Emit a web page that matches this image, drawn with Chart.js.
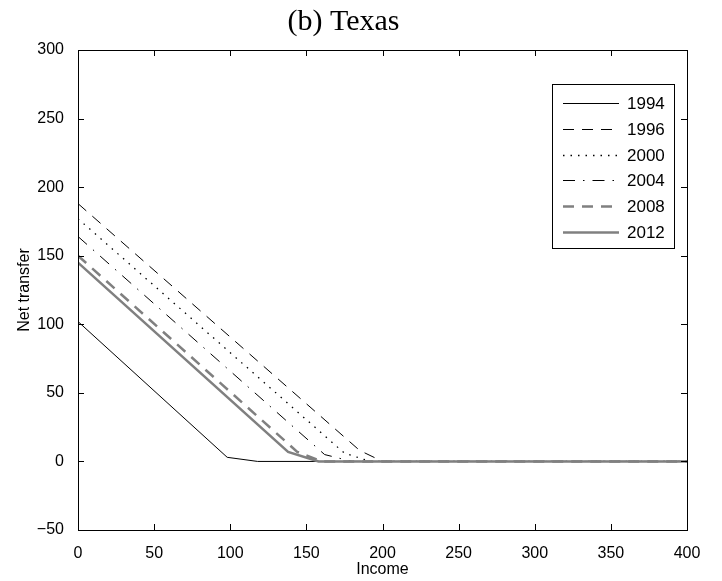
<!DOCTYPE html>
<html>
<head>
<meta charset="utf-8">
<script src="https://cdn.jsdelivr.net/npm/chart.js@4.4.1/dist/chart.umd.min.js"></script>
<style>
  body { margin: 0; background: #fff; }
  canvas { display: block; }
</style>
</head>
<body>
<canvas id="texaschart" width="722" height="581"></canvas>
<script>
// series: income knots and net transfer at each
const years = ['1994', '1996', '2000', '2004', '2008', '2012'];
const income1994 = [0, 98, 118, 400];
const net1994 = [102, 3, 0, 0];
const income1996 = [0, 185, 200, 400];
const net1996 = [188, 8, 0, 0];
const income2000 = [0, 175, 192, 400];
const net2000 = [177, 6, 0, 0];
const income2004 = [0, 162, 180, 400];
const net2004 = [164, 5, 0, 0];
const income2008 = [0, 144, 160, 400];
const net2008 = [150, 7, 0, 0];
const income2012 = [0, 138, 158, 400];
const net2012 = [145, 7, 0, 0];

const xTicks = [0, 50, 100, 150, 200, 250, 300, 350, 400];
const yTicks = [-50, 0, 50, 100, 150, 200, 250, 300];

const incomes = [income1994, income1996, income2000, income2004, income2008, income2012];
const nets = [net1994, net1996, net2000, net2004, net2008, net2012];

const styles = [
    { color: '#000', width: 1, dash: [] },
    { color: '#000', width: 1, dash: [11, 8] },
    { color: '#000', width: 1.3, dash: [1.5, 6] },
    { color: '#000', width: 1, dash: [12, 8, 1.5, 8] },
    { color: '#808080', width: 2.5, dash: [11, 8] },
    { color: '#808080', width: 2.5, dash: [] },
];

let datasets = [];
for (let i = 0; i < years.length; i++) {
    datasets.push({
        label: years[i],
        data: incomes[i].map((x, j) => ({ x: x, y: nets[i][j] })),
        borderColor: styles[i].color,
        borderWidth: styles[i].width,
        borderDash: styles[i].dash,
        pointRadius: 0,
        tension: 0,
        fill: false,
        order: years.length - i,
    });
}

// MATLAB style box, inward ticks and the legend box
const frame = {
    id: 'frame',
    afterDatasetsDraw(chart) {
        const { ctx, chartArea: a, scales: { x, y } } = chart;
        ctx.save();
        ctx.setLineDash([]);
        ctx.strokeStyle = '#000';
        ctx.lineWidth = 1;
        ctx.beginPath();
        x.ticks.forEach(t => {
            const px = Math.round(x.getPixelForValue(t.value)) + 0.5;
            ctx.moveTo(px, a.bottom); ctx.lineTo(px, a.bottom - 6);
            ctx.moveTo(px, a.top); ctx.lineTo(px, a.top + 6);
        });
        y.ticks.forEach(t => {
            const py = Math.round(y.getPixelForValue(t.value)) + 0.5;
            ctx.moveTo(a.left, py); ctx.lineTo(a.left + 6, py);
            ctx.moveTo(a.right, py); ctx.lineTo(a.right - 6, py);
        });
        ctx.stroke();
        ctx.strokeRect(Math.round(a.left) + 0.5, Math.round(a.top) + 0.5,
            Math.round(a.right - a.left), Math.round(a.bottom - a.top));

        // legend
        const bx = 552, by = 84, bw = 122, bh = 164;
        ctx.fillStyle = '#fff';
        ctx.fillRect(bx, by, bw, bh);
        ctx.strokeRect(bx + 0.5, by + 0.5, bw, bh);
        ctx.font = '17px "Liberation Sans", Arial, sans-serif';
        ctx.textBaseline = 'middle';
        ctx.textAlign = 'left';
        chart.data.datasets.forEach((ds, i) => {
            const ly = Math.round(by + 19 + i * 25.8) + 0.5;
            ctx.beginPath();
            ctx.strokeStyle = ds.borderColor;
            ctx.lineWidth = ds.borderWidth;
            ctx.setLineDash(ds.borderDash);
            ctx.moveTo(bx + 11, ly);
            ctx.lineTo(bx + 67, ly);
            ctx.stroke();
            ctx.setLineDash([]);
            ctx.fillStyle = '#000';
            ctx.fillText(ds.label, bx + 75, ly + 1);
        });
        ctx.restore();
    }
};

const tickFont = { family: '"Liberation Sans", Arial, sans-serif', size: 16 };

new Chart(document.getElementById('texaschart'), {
    type: 'line',
    data: { datasets: datasets },
    plugins: [frame],
    options: {
        responsive: false,
        animation: false,
        events: [],
        layout: { padding: { left: 0, right: 35, top: 0, bottom: 0 } },
        plugins: {
            legend: { display: false },
            tooltip: { enabled: false },
            title: {
                display: true,
                text: '(b) Texas',
                color: '#000',
                font: { family: '"Liberation Serif", "Times New Roman", serif', size: 30, weight: 'normal' },
                padding: { top: 4, bottom: 10 },
            },
        },
        scales: {
            x: {
                type: 'linear',
                min: 0,
                max: 400,
                afterBuildTicks: (s) => { s.ticks = xTicks.map(v => ({ value: v })); },
                afterFit: (s) => { s.height = 51; },
                grid: { display: false },
                border: { display: false },
                ticks: { color: '#000', font: tickFont, padding: 6, maxRotation: 0 },
                title: { display: true, text: 'Income', color: '#000', font: tickFont, padding: { top: 0, bottom: 2 } },
            },
            y: {
                type: 'linear',
                min: -50,
                max: 300,
                afterBuildTicks: (s) => { s.ticks = yTicks.map(v => ({ value: v })); },
                afterFit: (s) => { s.width = 78; },
                grid: { display: false },
                border: { display: false },
                ticks: {
                    color: '#000', font: tickFont, padding: 6,
                    callback: (v) => String(v).replace('-', '\u2212'),
                },
                title: { display: true, text: 'Net transfer', color: '#000', font: tickFont, padding: { top: 15, bottom: 0 } },
            },
        },
    },
});
</script>
</body>
</html>
